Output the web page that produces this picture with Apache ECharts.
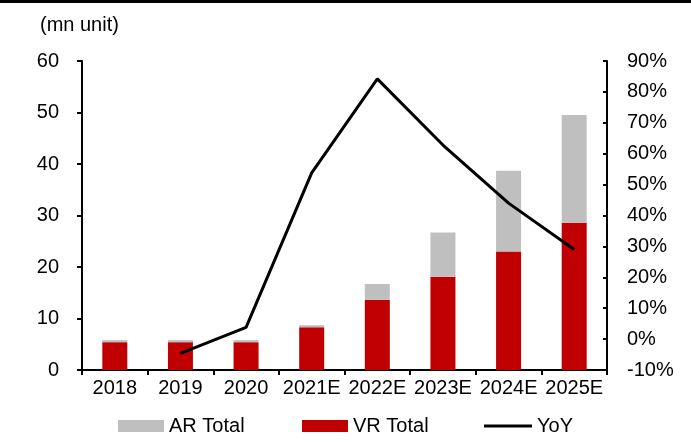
<!DOCTYPE html>
<html>
<head>
<meta charset="utf-8">
<script src="https://cdn.jsdelivr.net/npm/echarts@6/dist/echarts.min.js"></script>
<style>html,body{margin:0;padding:0;background:#fff;}#c{width:691px;height:442px;}</style>
</head>
<body>
<div id="c"></div>
<script>
const categories = ['2018','2019','2020','2021E','2022E','2023E','2024E','2025E'];
const vrTotal = [5.4, 5.4, 5.4, 8.3, 13.6, 18.1, 23.0, 28.6];
const arTotal = [0.4, 0.4, 0.4, 0.4, 3.1, 8.6, 15.7, 20.9];
const yoy = [null, -4.6, 3.8, 53.8, 84.2, 62.8, 44.0, 29.0];
const leftTicks = [0, 60, 10];
const rightTicks = [-10, 90, 10];

const FONT = 'Liberation Sans, Arial, sans-serif';
const FS = 20;
const chart = echarts.init(document.getElementById('c'), null, {renderer: 'canvas'});
const txt = {color: '#000', fontSize: FS, fontFamily: FONT};
chart.setOption({
  animation: false,
  backgroundColor: '#fff',
  graphic: [
    {type: 'rect', left: 0, top: 0, shape: {width: 691, height: 3}, style: {fill: '#000'}},
    {type: 'text', left: 40, top: 15, style: {text: '(mn unit)', fill: '#000', fontSize: FS, fontFamily: FONT}}
  ],
  grid: {left: 82, right: 84, top: 61, bottom: 72, containLabel: false},
  legend: [
    {data: [{name: 'AR Total'}], left: 113, top: 411, itemWidth: 46, itemHeight: 12, itemGap: 0, textStyle: txt, icon: 'rect'},
    {data: [{name: 'VR Total'}], left: 297, top: 411, itemWidth: 46, itemHeight: 12, itemGap: 0, textStyle: txt, icon: 'rect'},
    {data: [{name: 'YoY', icon: 'rect', itemStyle: {color: '#000'}}], left: 479, top: 411, itemWidth: 48, itemHeight: 3, itemGap: 0, textStyle: txt}
  ],
  xAxis: {
    type: 'category', data: categories,
    axisLine: {lineStyle: {color: '#000', width: 2}},
    axisTick: {show: true, length: 5, interval: 0, lineStyle: {color: '#000', width: 2}, alignWithLabel: false},
    axisLabel: {...txt, margin: 8, interval: 0, hideOverlap: false},
    splitLine: {show: false}
  },
  yAxis: [
    {type: 'value', min: leftTicks[0], max: leftTicks[1], interval: leftTicks[2], position: 'left',
     axisLine: {show: true, lineStyle: {color: '#000', width: 2}},
     axisTick: {show: true, length: 5, lineStyle: {color: '#000', width: 2}},
     axisLabel: {...txt, margin: 23},
     splitLine: {show: false}},
    {type: 'value', min: rightTicks[0], max: rightTicks[1], interval: rightTicks[2], position: 'right',
     axisLine: {show: true, lineStyle: {color: '#000', width: 2}},
     axisTick: {show: true, inside: true, length: 4, lineStyle: {color: '#000', width: 2}},
     axisLabel: {...txt, margin: 20, formatter: v => v + '%'},
     splitLine: {show: false}}
  ],
  series: [
    {name: 'VR Total', type: 'bar', stack: 't', data: vrTotal, barWidth: 25,
     itemStyle: {color: '#C00000'}},
    {name: 'AR Total', type: 'bar', stack: 't', data: arTotal, barWidth: 25,
     itemStyle: {color: '#BFBFBF'}},
    {name: 'YoY', type: 'line', yAxisIndex: 1, data: yoy, symbol: 'none',
     lineStyle: {color: '#000', width: 3}, itemStyle: {color: '#000'}, connectNulls: false}
  ]
});
</script>
</body>
</html>
